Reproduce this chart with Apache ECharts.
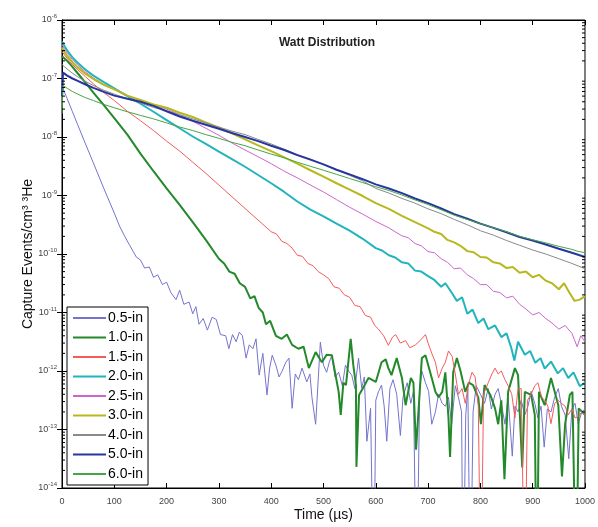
<!DOCTYPE html>
<html><head><meta charset="utf-8">
<script src="https://cdn.jsdelivr.net/npm/echarts@6/dist/echarts.min.js"></script>
<style>html,body{margin:0;padding:0;background:#fff}#c{width:598px;height:527px}</style>
</head><body><div id="c"></div>
<script>
const seriesNames = ['0.5-in','1.0-in','1.5-in','2.0-in','2.5-in','3.0-in','4.0-in','5.0-in','6.0-in'];
const seriesColors = ['#7474cc','#24892a','#f25c5c','#22b4bc','#cc66cc','#b8b81e','#8a8a8a','#2636a0','#46a646'];
const seriesWidths = [1,2,1,2,1,2,1,2,1];
const xTickValues = [0,100,200,300,400,500,600,700,800,900,1000];
const yTickValues = [1e-14,1e-13,1e-12,1e-11,1e-10,1e-9,1e-8,1e-7,1e-6];

const d05 = [[0,7.4e-8],[10,4.5e-8],[20,2.7e-8],[30,1.62e-8],[45,7.6e-9],[60,3.6e-9],[80,1.32e-9],[100,5.0e-10],[110,3.0e-10],[120,2.0e-10],[130,1.38e-10],[142,8.9e-11],[150,7.9e-11],[158,5.75e-11],[167,6.0e-11],[175,4.0e-11],[183,4.4e-11],[192,3.0e-11],[200,3.3e-11],[208,2.2e-11],[218,1.66e-11],[225,2.4e-11],[233,1.38e-11],[243,1.51e-11],[250,9.5e-12],[256,1.26e-11],[262,6.3e-12],[270,7.9e-12],[278,5.0e-12],[287,8.3e-12],[295,7.6e-12],[303,4.2e-12],[313,4.0e-12],[319,2.4e-12],[326,4.2e-12],[333,3.16e-12],[339,4.6e-12],[345,4.0e-12],[352,1.66e-12],[358,2.8e-12],[365,2.4e-12],[371,3.55e-12],[377,8.5e-13],[384,2.0e-12],[392,3.9e-13],[397,1.12e-12],[402,1.86e-12],[409,1.26e-12],[415,7.9e-13],[421,1.0e-12],[428,1.41e-12],[434,1.66e-12],[440,2.3e-13],[446,8.9e-13],[452,7.1e-13],[459,1.12e-12],[468,6.5e-13],[474,8.9e-13],[478,3.5e-13],[485,1.23e-13],[494,3.1e-12],[500,1.26e-12],[506,9.5e-13],[511,1.41e-12],[516,1.86e-12],[522,7.9e-13],[529,9.5e-13],[536,5.6e-13],[542,1.26e-12],[548,1.0e-12],[554,8.5e-13],[560,5.0e-13],[567,1.66e-12],[573,5.1e-13],[578,7.9e-13],[583,6.3e-14],[590,2.3e-13],[596,1e-16],[600,3.16e-13],[605,4.4e-13],[611,5.75e-13],[616,2.5e-13],[621,6.3e-14],[627,5.0e-13],[633,7.1e-13],[640,4.0e-13],[647,7.9e-14],[652,3.55e-13],[660,6.3e-13],[667,2.8e-13],[672,4.5e-13],[678,1e-16],[684,5.0e-13],[688,1.0e-12],[695,6.3e-13],[701,4.5e-13],[707,1.23e-13],[714,2.0e-13],[720,4.0e-13],[727,2.8e-13],[733,2.5e-13],[739,3.55e-13],[745,1.23e-13],[752,5.6e-13],[758,3.55e-13],[764,2.0e-13],[767,1e-16],[772,1.78e-13],[776,5.0e-13],[781,1e-16],[786,2.0e-13],[792,5.6e-13],[800,4.0e-13],[808,2.8e-13],[815,5.0e-13],[821,2.24e-13],[828,4.0e-13],[834,5.0e-13],[840,2.8e-13],[847,1.23e-13],[853,3.55e-13],[861,3.5e-14],[866,2.5e-13],[872,2.0e-13],[878,3.16e-13],[885,1.78e-13],[891,2.5e-13],[897,4.5e-13],[904,2.8e-13],[910,1.58e-13],[916,2.5e-13],[922,5.0e-14],[928,2.24e-13],[935,2.0e-13],[942,3.55e-13],[949,5.0e-13],[955,2.5e-13],[962,1.78e-13],[969,3.16e-14],[975,2.24e-13],[981,2.8e-13],[987,1.26e-13],[994,2.0e-13],[1000,2.24e-13]];

const d10 = [[0,2.4e-7],[10,2.0e-7],[20,1.58e-7],[30,1.23e-7],[45,8.5e-8],[60,5.75e-8],[80,3.5e-8],[100,2.1e-8],[125,1.1e-8],[150,5.2e-9],[175,2.6e-9],[200,1.32e-9],[225,6.9e-10],[250,3.5e-10],[275,1.74e-10],[300,8.3e-11],[310,6.9e-11],[320,5.0e-11],[330,4.6e-11],[340,3.16e-11],[350,2.75e-11],[360,1.74e-11],[368,1.9e-11],[376,1.2e-11],[384,1.0e-11],[390,6.3e-12],[398,7.2e-12],[409,4.0e-12],[420,3.55e-12],[430,4.2e-12],[440,2.8e-12],[452,2.4e-12],[462,2.6e-12],[472,1.12e-12],[485,2.1e-12],[497,1.41e-12],[506,1.9e-12],[516,1.86e-12],[529,4.4e-13],[533,1.78e-13],[538,6.3e-13],[543,5.75e-13],[552,3.55e-12],[557,1.26e-12],[562,5.75e-13],[563,2.3e-14],[568,3.9e-13],[575,5.0e-13],[586,7.6e-13],[600,6.5e-13],[611,1.41e-12],[619,1.58e-12],[624,1.12e-12],[630,8.5e-13],[640,1.66e-12],[650,7.6e-13],[657,2.6e-13],[667,7.6e-13],[672,6.3e-13],[677,4.5e-14],[688,1.66e-12],[695,1.86e-12],[707,7.6e-13],[714,4.4e-13],[720,3.55e-13],[727,4.4e-13],[733,9.5e-13],[739,1.58e-13],[742,3.4e-14],[748,9.5e-13],[755,1.66e-12],[762,1.0e-12],[771,4.4e-13],[778,6.3e-13],[786,5.75e-13],[796,3.5e-13],[801,1.23e-13],[808,5.75e-13],[819,3.9e-13],[828,2.3e-13],[834,1.23e-13],[840,3.16e-13],[846,1.41e-14],[853,4.4e-13],[866,1.12e-12],[872,8.5e-13],[880,2.24e-14],[885,4.4e-13],[897,3.9e-13],[904,1.78e-13],[908,1e-16],[912,4.4e-13],[923,2.6e-13],[935,7.6e-13],[949,2.6e-13],[956,1.58e-14],[962,1.23e-13],[971,3.9e-13],[976,4.4e-13],[983,1e-16],[988,2.3e-13],[1000,1.78e-13]];

const d15 = [[0,2.9e-7],[5,2.5e-7],[10,2.2e-7],[20,1.74e-7],[30,1.41e-7],[45,1.07e-7],[60,8.1e-8],[80,5.75e-8],[100,4.2e-8],[125,2.75e-8],[150,1.9e-8],[175,1.29e-8],[200,8.5e-9],[225,5.75e-9],[250,3.7e-9],[275,2.4e-9],[300,1.51e-9],[325,9.5e-10],[350,6.0e-10],[375,3.8e-10],[400,2.4e-10],[410,2.2e-10],[420,1.66e-10],[430,1.51e-10],[440,1.26e-10],[450,9.5e-11],[460,9.1e-11],[470,6.9e-11],[480,6.3e-11],[490,5.0e-11],[500,4.4e-11],[510,3.8e-11],[520,2.75e-11],[530,2.6e-11],[540,2.0e-11],[550,1.82e-11],[560,1.32e-11],[570,1.26e-11],[580,8.9e-12],[590,8.3e-12],[598,6.0e-12],[605,5.2e-12],[615,4.0e-12],[624,2.75e-12],[632,3.8e-12],[638,4.2e-12],[647,3.0e-12],[657,3.3e-12],[665,2.5e-12],[676,2.8e-12],[688,3.55e-12],[695,4.2e-12],[700,3.0e-12],[707,2.0e-12],[714,1.41e-12],[720,7.6e-13],[727,1.12e-12],[733,1.41e-12],[739,2.2e-12],[746,1.78e-12],[752,8.9e-13],[758,4.0e-13],[765,5.0e-13],[771,2.8e-13],[778,6.3e-13],[784,9.5e-13],[790,7.9e-13],[796,2.5e-13],[801,1e-16],[806,4.0e-13],[815,6.3e-13],[822,8.9e-13],[828,1.12e-12],[834,8.9e-13],[840,1.0e-12],[847,7.1e-13],[853,5.6e-13],[860,4.0e-13],[866,1.58e-13],[872,5.0e-13],[878,5.0e-13],[885,1e-16],[890,3.16e-13],[897,4.0e-13],[904,5.6e-13],[910,6.3e-13],[917,3.55e-13],[923,3.16e-13],[929,2.5e-13],[935,1.26e-13],[942,2.8e-13],[949,3.16e-13],[955,2.8e-13],[962,2.5e-13],[968,1.78e-13],[975,2.24e-13],[981,1.58e-13],[987,1.66e-13],[994,2.0e-13],[1000,1.78e-13]];

const d20 = [[0,4.3e-7],[5,3.55e-7],[10,3.0e-7],[20,2.3e-7],[30,1.86e-7],[45,1.41e-7],[60,1.12e-7],[80,8.7e-8],[100,6.8e-8],[125,5.0e-8],[150,3.7e-8],[175,2.7e-8],[200,1.95e-8],[225,1.41e-8],[250,1.02e-8],[275,7.6e-9],[300,5.6e-9],[325,4.2e-9],[350,3.1e-9],[375,2.24e-9],[400,1.62e-9],[425,1.15e-9],[450,7.9e-10],[475,5.75e-10],[500,4.4e-10],[525,3.3e-10],[550,2.5e-10],[575,1.82e-10],[600,1.26e-10],[612,1.15e-10],[625,9.5e-11],[637,8.7e-11],[650,7.2e-11],[662,6.9e-11],[675,5.2e-11],[687,5.0e-11],[700,4.2e-11],[712,3.6e-11],[725,2.75e-11],[733,3.16e-11],[745,2.2e-11],[755,1.58e-11],[765,1.82e-11],[775,9.5e-12],[785,1.12e-11],[796,6.6e-12],[806,7.9e-12],[815,5.2e-12],[828,6.0e-12],[840,3.8e-12],[850,4.4e-12],[859,2.5e-12],[865,1.51e-12],[872,3.16e-12],[885,1.9e-12],[895,2.2e-12],[905,1.38e-12],[915,1.66e-12],[923,1.1e-12],[935,1.45e-12],[948,9.1e-13],[958,1.12e-12],[968,7.6e-13],[978,9.5e-13],[990,5.5e-13],[1000,6.3e-13]];

const d25 = [[0,3.8e-7],[5,3.16e-7],[10,2.7e-7],[20,2.1e-7],[30,1.7e-7],[45,1.29e-7],[60,1.02e-7],[80,7.9e-8],[100,6.5e-8],[125,5.1e-8],[150,4.2e-8],[175,3.55e-8],[200,3.0e-8],[225,2.4e-8],[250,1.86e-8],[275,1.41e-8],[300,1.07e-8],[325,7.9e-9],[350,6.0e-9],[375,4.6e-9],[400,3.5e-9],[425,2.6e-9],[450,2.0e-9],[475,1.51e-9],[500,1.15e-9],[525,8.5e-10],[550,6.3e-10],[575,4.8e-10],[600,3.6e-10],[625,2.8e-10],[637,2.4e-10],[650,2.04e-10],[662,1.9e-10],[675,1.51e-10],[687,1.38e-10],[700,1.1e-10],[712,1.05e-10],[725,8.3e-11],[737,7.2e-11],[750,5.6e-11],[762,5.75e-11],[775,4.4e-11],[787,3.8e-11],[800,3.0e-11],[812,3.0e-11],[825,2.3e-11],[837,2.2e-11],[850,1.78e-11],[862,1.9e-11],[875,1.38e-11],[887,1.15e-11],[900,9.1e-12],[912,1.0e-11],[925,7.9e-12],[937,6.6e-12],[950,5.2e-12],[962,6.0e-12],[975,4.4e-12],[985,2.6e-12],[992,4.0e-12],[1000,3.16e-12]];

const d30 = [[0,3.4e-7],[5,2.8e-7],[10,2.4e-7],[20,1.9e-7],[30,1.55e-7],[45,1.2e-7],[60,9.8e-8],[80,7.8e-8],[100,6.5e-8],[125,5.1e-8],[150,4.3e-8],[175,3.6e-8],[200,3.16e-8],[225,2.6e-8],[250,2.2e-8],[275,1.78e-8],[300,1.45e-8],[325,1.15e-8],[350,9.1e-9],[375,7.2e-9],[400,5.75e-9],[425,4.5e-9],[450,3.5e-9],[475,2.7e-9],[500,2.1e-9],[525,1.62e-9],[550,1.26e-9],[575,9.8e-10],[600,7.4e-10],[625,5.9e-10],[650,4.5e-10],[675,3.5e-10],[700,2.75e-10],[712,2.4e-10],[725,2.2e-10],[737,1.74e-10],[750,1.58e-10],[762,1.38e-10],[775,1.12e-10],[787,1.07e-10],[800,8.9e-11],[812,8.7e-11],[825,7.2e-11],[837,6.9e-11],[850,5.75e-11],[862,6.0e-11],[875,4.8e-11],[887,5.0e-11],[900,4.0e-11],[912,4.4e-11],[925,3.5e-11],[937,3.16e-11],[950,2.5e-11],[960,3.16e-11],[970,2.2e-11],[980,1.58e-11],[990,1.66e-11],[1000,1.9e-11]];

const d40 = [[0,1.74e-7],[5,1.58e-7],[10,1.45e-7],[20,1.23e-7],[30,1.07e-7],[45,8.9e-8],[60,7.6e-8],[80,6.3e-8],[100,5.4e-8],[125,4.5e-8],[150,3.8e-8],[175,3.2e-8],[200,2.8e-8],[225,2.4e-8],[250,2.04e-8],[275,1.74e-8],[300,1.48e-8],[325,1.26e-8],[350,1.1e-8],[375,9.1e-9],[400,7.6e-9],[425,6.2e-9],[450,5.0e-9],[475,4.2e-9],[500,3.4e-9],[525,2.75e-9],[550,2.2e-9],[575,1.78e-9],[600,1.32e-9],[625,1.1e-9],[650,8.9e-10],[675,7.4e-10],[700,5.9e-10],[725,4.9e-10],[750,3.9e-10],[775,3.16e-10],[800,2.5e-10],[825,2.1e-10],[850,1.7e-10],[875,1.41e-10],[900,1.17e-10],[925,1.0e-10],[950,8.3e-11],[975,6.9e-11],[1000,5.6e-11]];

const d50 = [[0,5.0e-8],[2,1.26e-7],[5,1.2e-7],[10,1.12e-7],[20,1.0e-7],[30,9.1e-8],[45,7.9e-8],[60,6.9e-8],[80,5.9e-8],[100,5.1e-8],[125,4.5e-8],[150,4.0e-8],[175,3.4e-8],[200,2.75e-8],[225,2.24e-8],[250,1.9e-8],[275,1.62e-8],[300,1.38e-8],[325,1.17e-8],[350,1.0e-8],[375,8.5e-9],[400,7.1e-9],[425,6.0e-9],[450,4.9e-9],[475,4.1e-9],[500,3.4e-9],[525,2.75e-9],[550,2.3e-9],[575,1.9e-9],[600,1.55e-9],[625,1.32e-9],[650,1.1e-9],[675,8.9e-10],[700,7.4e-10],[725,6.0e-10],[750,4.8e-10],[775,4.0e-10],[800,3.3e-10],[825,2.8e-10],[850,2.35e-10],[875,1.95e-10],[900,1.7e-10],[925,1.45e-10],[950,1.23e-10],[975,1.05e-10],[1000,8.9e-11]];

const d60 = [[0,2.5e-8],[2,7.6e-8],[5,7.2e-8],[10,6.8e-8],[20,6.0e-8],[30,5.4e-8],[45,4.7e-8],[60,4.2e-8],[80,3.6e-8],[100,3.16e-8],[125,2.7e-8],[150,2.34e-8],[175,2.04e-8],[200,1.74e-8],[225,1.48e-8],[250,1.29e-8],[275,1.1e-8],[300,9.5e-9],[325,8.1e-9],[350,7.1e-9],[375,6.0e-9],[400,5.1e-9],[425,4.4e-9],[450,3.7e-9],[475,3.16e-9],[500,2.7e-9],[525,2.3e-9],[550,1.95e-9],[575,1.66e-9],[600,1.41e-9],[625,1.22e-9],[650,1.02e-9],[675,8.4e-10],[700,7.0e-10],[725,5.7e-10],[750,4.6e-10],[775,3.9e-10],[800,3.3e-10],[825,2.8e-10],[850,2.4e-10],[875,2.0e-10],[900,1.75e-10],[925,1.55e-10],[950,1.35e-10],[975,1.2e-10],[985,1.12e-10],[1000,1.05e-10]];

const seriesData = [d05,d10,d15,d20,d25,d30,d40,d50,d60];

const minorTickValues = [];
for (let e = -14; e < -6; e++) for (let m = 2; m <= 9; m++) minorTickValues.push(m * Math.pow(10, e));

const FONT = '"Liberation Sans", Arial, Helvetica, sans-serif';
function yLabel(v) {
  const e = Math.round(Math.log10(v));
  return '{b|10}{s|' + e + '}';
}

const chart = echarts.init(document.getElementById('c'), null, {renderer: 'canvas'});
const commonX = {type: 'value', min: 0, max: 1000, interval: 100};
const commonY = {type: 'log', logBase: 10, min: 1e-14, max: 1e-6, interval: 1};

const lineSeries = seriesNames.map((n, i) => ({
  name: n, type: 'line', data: seriesData[i], symbol: 'none', showSymbol: false,
  color: seriesColors[i], lineStyle: {width: seriesWidths[i], color: seriesColors[i]},
  clip: true, animation: false, z: 2 + i
}));

lineSeries.push({
  type: 'custom', name: 'minorTicks', coordinateSystem: 'cartesian2d', silent: true, clip: false, z: 20,
  data: minorTickValues.map(v => [0, v]), encode: {x: 0, y: 1},
  renderItem: function (params, api) {
    const y = api.coord([0, api.value(1)])[1];
    const cs = params.coordSys;
    const xL = cs.x, xR = cs.x + cs.width;
    return {type: 'group', children: [
      {type: 'line', shape: {x1: xL, y1: y, x2: xL + 3, y2: y}, style: {stroke: '#000', lineWidth: 1}},
      {type: 'line', shape: {x1: xR - 3, y1: y, x2: xR, y2: y}, style: {stroke: '#000', lineWidth: 1}}
    ]};
  }
});

chart.setOption({
  animation: false,
  backgroundColor: '#fff',
  textStyle: {fontFamily: FONT},
  title: {
    text: 'Watt Distribution', left: 322, top: 32, textAlign: 'center',
    textStyle: {fontSize: 12, fontWeight: 'bold', color: '#222', fontFamily: FONT}
  },
  grid: {left: 62, right: 11, top: 20, bottom: 33, show: true, borderColor: '#000', borderWidth: 1, backgroundColor: 'transparent'},
  legend: {
    orient: 'vertical', left: 67, top: 307, itemWidth: 33, itemHeight: 14, itemGap: 5.5,
    padding: [4, 5, 4, 5], backgroundColor: '#fff', borderColor: '#000', borderWidth: 1,
    itemStyle: {opacity: 0},
    textStyle: {fontSize: 14, color: '#000', fontFamily: FONT, padding: [0, 0, 0, -3]},
    data: seriesNames, selectedMode: false
  },
  xAxis: [
    Object.assign({}, commonX, {
      position: 'bottom',
      name: 'Time (\u00B5s)', nameLocation: 'middle', nameGap: 20, nameMoveOverlap: false,
      nameTextStyle: {fontSize: 14, color: '#111', fontFamily: FONT},
      axisLine: {show: true, lineStyle: {color: '#000', width: 1}},
      axisTick: {inside: true, length: 5, lineStyle: {color: '#000'}},
      axisLabel: {fontSize: 9, color: '#444', margin: 9, fontFamily: FONT, formatter: v => String(v)},
      splitLine: {show: false}
    }),
    Object.assign({}, commonX, {
      position: 'top',
      axisLine: {show: true, lineStyle: {color: '#000', width: 1}},
      axisTick: {inside: true, length: 5, lineStyle: {color: '#000'}},
      axisLabel: {show: false}, splitLine: {show: false}
    })
  ],
  yAxis: [
    Object.assign({}, commonY, {
      position: 'left',
      name: 'Capture Events/cm\u00B3 \u00B3He', nameLocation: 'middle', nameGap: 27, nameRotate: 90, nameMoveOverlap: false,
      nameTextStyle: {fontSize: 14, color: '#111', fontFamily: FONT},
      axisLine: {show: true, lineStyle: {color: '#000', width: 1}},
      axisTick: {inside: true, length: 5, lineStyle: {color: '#000'}},
      axisLabel: {
        margin: 5, color: '#444', formatter: yLabel,
        rich: {b: {fontSize: 9, color: '#444', fontFamily: FONT}, s: {fontSize: 6, color: '#444', fontFamily: FONT, padding: [0, 0, 7, 0]}}
      },
      splitLine: {show: false}
    }),
    Object.assign({}, commonY, {
      position: 'right',
      axisLine: {show: true, lineStyle: {color: '#000', width: 1}},
      axisTick: {inside: true, length: 5, lineStyle: {color: '#000'}},
      axisLabel: {show: false}, splitLine: {show: false}
    })
  ],
  series: lineSeries
});
</script>
</body></html>
